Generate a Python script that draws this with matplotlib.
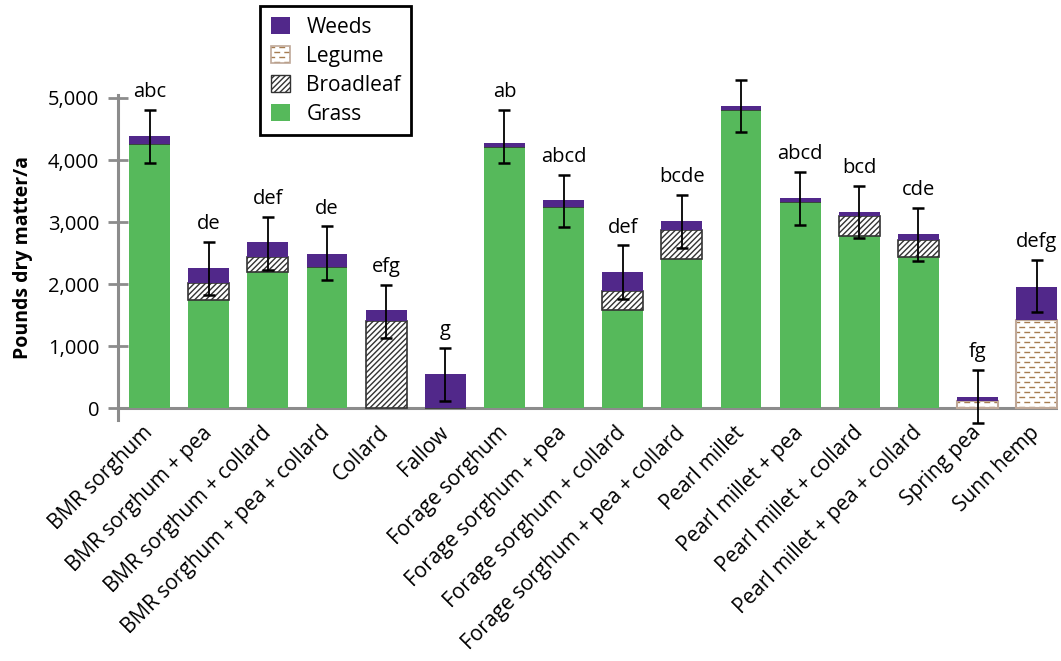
import numpy as np
import matplotlib
matplotlib.use("Agg")
import matplotlib.pyplot as plt
import matplotlib.hatch as mhatch
from matplotlib.path import Path
from matplotlib.patches import Patch
from matplotlib.legend_handler import HandlerTuple

treatments = ["BMR sorghum", "BMR sorghum + pea", "BMR sorghum + collard",
              "BMR sorghum + pea + collard", "Collard", "Fallow",
              "Forage sorghum", "Forage sorghum + pea", "Forage sorghum + collard",
              "Forage sorghum + pea + collard", "Pearl millet", "Pearl millet + pea",
              "Pearl millet + collard", "Pearl millet + pea + collard",
              "Spring pea", "Sunn hemp"]

# pounds dry matter per acre, by component
grass = [4260, 1750, 2200, 2270, 0, 0, 4210, 3250, 1590, 2400, 4810, 3330, 2780, 2440, 0, 0]
broadleaf = [0, 265, 245, 0, 1410, 0, 0, 0, 305, 465, 0, 0, 320, 270, 0, 0]
legume = [0, 0, 0, 0, 0, 0, 0, 0, 0, 0, 0, 0, 0, 0, 118, 1424]
weeds = [130, 245, 235, 220, 175, 555, 65, 110, 305, 155, 60, 60, 60, 100, 64, 536]

# error bar ends
err_lo = [3960, 1830, 2230, 2070, 1135, 120, 3960, 2915, 1765, 2580, 4445, 2955, 2745, 2375, -230, 1560]
err_hi = [4810, 2680, 3090, 2930, 1995, 975, 4810, 3765, 2625, 3440, 5295, 3810, 3585, 3235, 625, 2390]

letters = ["abc", "de", "def", "de", "efg", "g", "ab", "abcd", "def", "bcde",
           "a", "abcd", "bcd", "cde", "fg", "defg"]


class DashRows(mhatch.HatchPatternBase):
    # '-' hatch drawn as staggered rows of short dashes
    def __init__(self, hatch, density):
        self.rows = 20 if '-' in hatch else 0
        self.cols = 10
        self.num_vertices = self.rows * self.cols * 2

    def set_vertices_and_codes(self, vertices, codes):
        n = 0
        for i in range(self.rows):
            y = (i + 0.5) / self.rows
            shift = 0.5 / self.cols if i % 2 else 0.0
            for j in range(self.cols):
                x0 = j / self.cols + shift
                vertices[n] = (x0, y)
                vertices[n + 1] = (x0 + 0.45 / self.cols, y)
                codes[n] = Path.MOVETO
                codes[n + 1] = Path.LINETO
                n += 2


mhatch._hatch_types[mhatch._hatch_types.index(mhatch.HorizontalHatch)] = DashRows

plt.rcParams['font.family'] = ['Open Sans', 'DejaVu Sans']
plt.rcParams['hatch.linewidth'] = 1.0

GREEN = "#56b95b"
PURPLE = "#51288a"
DASH = "#a67c50"
TAN = "#bfa898"
DARK = "#333333"
GRAY = "#8c8c8c"
BL_HATCH = "//////"

grass = np.array(grass)
broadleaf = np.array(broadleaf)
legume = np.array(legume)
weeds = np.array(weeds)
err_lo = np.array(err_lo)
err_hi = np.array(err_hi)
x = np.arange(len(treatments))
w = 0.69

fig = plt.figure(figsize=(10.61, 6.61), dpi=100)
ax = fig.add_axes([118 / 1061, 1 - 420 / 661, 940 / 1061, 325 / 661])

b1 = grass
b2 = b1 + broadleaf
b3 = b2 + legume
ax.bar(x, grass, w, color=GREEN, linewidth=0)
ax.bar(x, broadleaf, w, bottom=b1, facecolor="white", edgecolor=DARK,
       hatch=BL_HATCH, linewidth=1.2)
ax.bar(x, legume, w, bottom=b2, facecolor="white", edgecolor=DASH,
       hatch="-", linewidth=0)
ax.bar(x[legume > 0], legume[legume > 0], w, bottom=b2[legume > 0],
       facecolor="none", edgecolor=TAN, linewidth=1.5)
ax.bar(x, weeds, w, bottom=b3, color=PURPLE, linewidth=0)

mid = (err_lo + err_hi) / 2
half = (err_hi - err_lo) / 2
eb = ax.errorbar(x, mid, yerr=half, fmt="none", ecolor="black",
                 elinewidth=1.3, capsize=4, capthick=1.8)
for art in eb.lines[1] + eb.lines[2]:
    art.set_clip_on(False)

for xi, top, lab in zip(x, err_hi, letters):
    ax.annotate(lab, (xi, top), xytext=(0, 9), textcoords="offset points",
                ha="center", va="baseline", fontsize=14.5)

ax.set_xlim(-0.533, 15.36)
ax.set_ylim(-188, 5048)
ax.axhline(0, color=GRAY, linewidth=2.2, zorder=0.5)

for s in ["top", "right", "bottom"]:
    ax.spines[s].set_visible(False)
ax.spines["left"].set_color(GRAY)
ax.spines["left"].set_linewidth(2.2)

ax.set_yticks([0, 1000, 2000, 3000, 4000, 5000])
ax.set_yticklabels(["0", "1,000", "2,000", "3,000", "4,000", "5,000"])
ax.tick_params(axis="y", direction="inout", length=15, width=2, color=GRAY,
               labelsize=14.5, pad=6)
ax.set_xticks(x)
ax.set_xticklabels(treatments, rotation=45, ha="right", va="center",
                   rotation_mode="anchor", fontsize=15)
ax.tick_params(axis="x", length=0, pad=7)

ax.set_ylabel("Pounds dry matter/a", fontsize=14, fontweight="bold", labelpad=11)

handles = [Patch(facecolor=PURPLE),
           (Patch(facecolor="white", edgecolor=DASH, hatch="-", linewidth=0),
            Patch(facecolor="none", edgecolor=TAN, linewidth=1.2)),
           Patch(facecolor="white", edgecolor=DARK, hatch=BL_HATCH, linewidth=1),
           Patch(facecolor=GREEN)]
leg = fig.legend(handles, ["Weeds", "Legume", "Broadleaf", "Grass"],
                 loc="upper left", bbox_to_anchor=(250 / 1061, 1 + 4 / 661),
                 handler_map={tuple: HandlerTuple(ndivide=1, pad=0)},
                 fontsize=15, handlelength=0.9, handleheight=0.9,
                 handletextpad=0.8, labelspacing=0.38, borderpad=0.5,
                 fancybox=False, framealpha=1)
leg.get_frame().set_edgecolor("black")
leg.get_frame().set_linewidth(2)

fig.savefig("out.png", dpi=100)
